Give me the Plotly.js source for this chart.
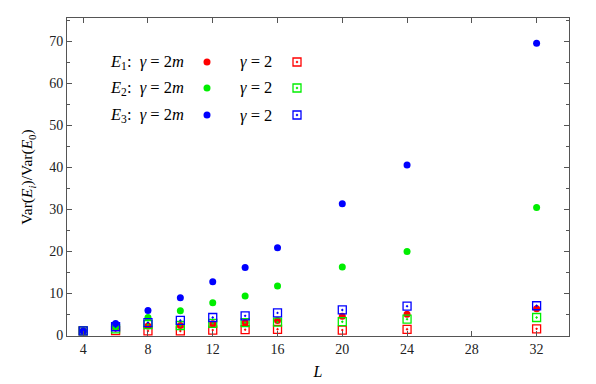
<!DOCTYPE html>
<html>
<head>
<meta charset="utf-8">
<script src="https://cdn.plot.ly/plotly-3.0.1.min.js"></script>
<style>html,body{margin:0;padding:0;background:#fff;}#chart{width:596px;height:384px;}</style>
</head>
<body>
<div id="chart"></div>
<script>
const L = [4, 6, 8, 10, 12, 14, 16, 20, 24, 32];
const E1_2m = [1, 1.7, 2.2, 2.3, 2.7, 3.0, 3.5, 4.5, 5.0, 6.3];
const E1_2  = [1, 1.1, 1.0, 1.0, 1.2, 1.3, 1.4, 1.2, 1.4, 1.5];
const E2_2m = [1, 2.0, 4.2, 5.8, 7.7, 9.3, 11.7, 16.2, 19.9, 30.4];
const E2_2  = [1, 1.5, 2.5, 2.3, 2.8, 3.0, 3.1, 3.2, 3.8, 4.2];
const E3_2m = [1, 2.8, 5.9, 8.9, 12.7, 16.1, 20.8, 31.3, 40.5, 69.5];
const E3_2  = [1, 2.0, 3.0, 3.5, 4.2, 4.6, 5.3, 6.0, 6.9, 7.0];
const xTicks = [4, 8, 12, 16, 20, 24, 28, 32];
const yTicks = [0, 10, 20, 30, 40, 50, 60, 70];

const legendLabels2m = ['<i>E</i><sub>1</sub>:  <i>γ</i> = 2<i>m</i>', '<i>E</i><sub>2</sub>:  <i>γ</i> = 2<i>m</i>', '<i>E</i><sub>3</sub>:  <i>γ</i> = 2<i>m</i>'];
const legendLabels2 = ['<i>γ</i> = 2', '<i>γ</i> = 2', '<i>γ</i> = 2'];
const colors = ['#ff0000', '#00ee00', '#0000ff'];

const FONT = 'Liberation Serif';
const plotL = 67, plotR = 569, plotT = 18, plotB = 336;
const px = v => (v - plotL) / (plotR - plotL);
const py = v => (plotB - v) / (plotB - plotT);
const rowsY = [62, 88, 115];

const circ = c => ({symbol: 'circle', size: 7, color: c, line: {width: 0}});
const sq = c => ({symbol: 'square-open-dot', size: 8, color: c, line: {width: 1.3, color: c}});

const series = [[E1_2m, E1_2], [E2_2m, E2_2], [E3_2m, E3_2]];
const traces = [];
series.forEach((s, i) => {
  traces.push({x: L, y: s[0], mode: 'markers', type: 'scatter', marker: circ(colors[i]), showlegend: false, hoverinfo: 'skip'});
  traces.push({x: L, y: s[1], mode: 'markers', type: 'scatter', marker: sq(colors[i]), showlegend: false, hoverinfo: 'skip'});
});
// legend keys on a hidden paper-like axis pair
colors.forEach((c, i) => {
  traces.push({x: [px(207)], y: [py(rowsY[i])], xaxis: 'x2', yaxis: 'y2', mode: 'markers', type: 'scatter', marker: circ(c), showlegend: false, hoverinfo: 'skip'});
  traces.push({x: [px(297)], y: [py(rowsY[i])], xaxis: 'x2', yaxis: 'y2', mode: 'markers', type: 'scatter', marker: sq(c), showlegend: false, hoverinfo: 'skip'});
});

const annotations = [];
rowsY.forEach((yy, i) => {
  annotations.push({xref: 'paper', yref: 'paper', x: px(108), y: py(yy), xanchor: 'left', yanchor: 'middle', text: legendLabels2m[i], showarrow: false, font: {family: FONT, size: 16.5, color: '#000'}});
  annotations.push({xref: 'paper', yref: 'paper', x: px(238), y: py(yy), xanchor: 'left', yanchor: 'middle', text: legendLabels2[i], showarrow: false, font: {family: FONT, size: 16.5, color: '#000'}});
});

const axisCol = '#555555';
const layout = {
  width: 596, height: 384,
  margin: {l: plotL, r: 596 - plotR, t: plotT, b: 384 - plotB},
  paper_bgcolor: '#fff', plot_bgcolor: '#fff',
  showlegend: false,
  font: {family: FONT, size: 14, color: '#222'},
  xaxis: {
    range: [3, 34], tickvals: xTicks, ticktext: xTicks.map(String),
    ticks: 'inside', ticklen: 5, tickcolor: axisCol, tickwidth: 1,
    showline: true, linecolor: axisCol, linewidth: 1, mirror: 'ticks',
    showgrid: false, zeroline: false,
    tickfont: {family: FONT, size: 14, color: '#222'},
    title: {text: '<i>L</i>', font: {family: FONT, size: 16, color: '#000'}, standoff: 10}
  },
  yaxis: {
    range: [-0.2, 75.5], tickvals: yTicks, ticktext: yTicks.map(String),
    ticks: 'inside', ticklen: 5, tickcolor: axisCol, tickwidth: 1,
    minor: {dtick: 5, tick0: 0, ticks: 'inside', ticklen: 3, tickcolor: axisCol, showgrid: false},
    showline: true, linecolor: axisCol, linewidth: 1, mirror: 'ticks',
    showgrid: false, zeroline: false,
    tickfont: {family: FONT, size: 14, color: '#222'},
    title: {text: 'Var(<i>E<sub>i</sub></i>)/Var(<i>E</i><sub>0</sub>)', font: {family: FONT, size: 15.5, color: '#000'}, standoff: 12}
  },
  xaxis2: {overlaying: 'x', range: [0, 1], visible: false, fixedrange: true},
  yaxis2: {overlaying: 'y', range: [0, 1], visible: false, fixedrange: true},
  annotations: annotations
};
Plotly.newPlot('chart', traces, layout, {staticPlot: true, displayModeBar: false});
</script>
</body>
</html>
